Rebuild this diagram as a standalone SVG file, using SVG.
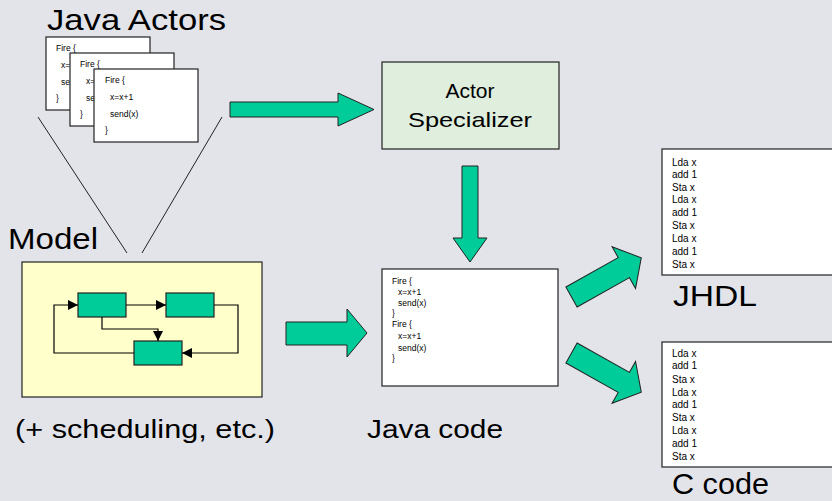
<svg xmlns="http://www.w3.org/2000/svg" width="832" height="501" viewBox="0 0 832 501">
<defs>
<style>
.big{font-family:"Liberation Sans",Arial,sans-serif;font-size:29px;fill:#000}
.mid{font-family:"Liberation Sans",Arial,sans-serif;font-size:21px;fill:#000}
.code{font-family:"Liberation Sans",Arial,sans-serif;font-size:8.5px;fill:#000}
.asm{font-family:"Liberation Sans",Arial,sans-serif;font-size:10px;fill:#000}
.card{fill:#fff;stroke:#222;stroke-width:1.2}
.fat{fill:#00cc99;stroke:#222;stroke-width:1}
.blk{fill:#00cc99;stroke:#222;stroke-width:1.2}
.wire{fill:none;stroke:#000;stroke-width:1.2}
.thin{fill:none;stroke:#222;stroke-width:1}
</style>
<marker id="ah" markerUnits="userSpaceOnUse" markerWidth="10" markerHeight="10" refX="10" refY="5" orient="auto">
<path d="M0,0 L10,5 L0,10 z" fill="#000"/>
</marker>
</defs>
<rect x="0" y="0" width="832" height="501" fill="#e3e4ea"/>

<g id="java-actors">
<text class="big" x="47" y="30" textLength="179" lengthAdjust="spacingAndGlyphs">Java Actors</text>
<rect class="card" x="46" y="37" width="104" height="73"/>
<text class="code" x="56" y="51">Fire {</text>
<text class="code" x="61" y="68">x=</text>
<text class="code" x="61" y="85">se</text>
<text class="code" x="56" y="101">}</text>
<rect class="card" x="70" y="53" width="104" height="73"/>
<text class="code" x="80" y="67">Fire {</text>
<text class="code" x="86" y="84">x=</text>
<text class="code" x="86" y="101">se</text>
<text class="code" x="80" y="117">}</text>
<rect class="card" x="94" y="69" width="104" height="73"/>
<text class="code" x="105" y="83">Fire {</text>
<text class="code" x="110" y="100">x=x+1</text>
<text class="code" x="110" y="117">send(x)</text>
<text class="code" x="105" y="133">}</text>
</g>

<g id="model">
<text class="big" x="8" y="249" textLength="90" lengthAdjust="spacingAndGlyphs">Model</text>
<rect x="22" y="262" width="240" height="135" fill="#ffffcc" stroke="#222" stroke-width="1.2"/>
<rect class="blk" x="78" y="293" width="48" height="24"/>
<rect class="blk" x="166" y="293" width="48" height="24"/>
<rect class="blk" x="134" y="341" width="48" height="24"/>
<path class="wire" d="M126,305 H166" marker-end="url(#ah)"/>
<path class="wire" d="M102,317 V329 H158 V341" marker-end="url(#ah)"/>
<path class="wire" d="M214,305 H238 V353 H182" marker-end="url(#ah)"/>
<path class="wire" d="M134,353 H54 V305 H78" marker-end="url(#ah)"/>
<text class="big" x="15" y="438" textLength="260" lengthAdjust="spacingAndGlyphs" style="font-size:26px">(+ scheduling, etc.)</text>
</g>

<g id="actor-specializer">
<rect x="382" y="62" width="177" height="87" fill="#dfeedd" stroke="#222" stroke-width="1.2"/>
<text class="mid" x="470" y="98" text-anchor="middle">Actor</text>
<text class="mid" x="470" y="127" text-anchor="middle" textLength="124" lengthAdjust="spacingAndGlyphs">Specializer</text>
</g>

<g id="java-code">
<rect class="card" x="382" y="269" width="176" height="117"/>
<text class="code" x="392" y="284">Fire {</text>
<text class="code" x="398" y="295">x=x+1</text>
<text class="code" x="398" y="306">send(x)</text>
<text class="code" x="392" y="316">}</text>
<text class="code" x="392" y="327">Fire {</text>
<text class="code" x="398" y="339">x=x+1</text>
<text class="code" x="398" y="351">send(x)</text>
<text class="code" x="392" y="361">}</text>
<text class="big" x="367" y="438" textLength="136" lengthAdjust="spacingAndGlyphs" style="font-size:26px">Java code</text>
</g>

<g id="jhdl">
<rect class="card" x="662" y="149" width="180" height="126"/>
<text class="asm" x="672" y="166">Lda x</text>
<text class="asm" x="672" y="178">add 1</text>
<text class="asm" x="672" y="191">Sta x</text>
<text class="asm" x="672" y="203">Lda x</text>
<text class="asm" x="672" y="216">add 1</text>
<text class="asm" x="672" y="229">Sta x</text>
<text class="asm" x="672" y="242">Lda x</text>
<text class="asm" x="672" y="255">add 1</text>
<text class="asm" x="672" y="268">Sta x</text>
<text class="big" x="673" y="306" textLength="84" lengthAdjust="spacingAndGlyphs">JHDL</text>
</g>

<g id="c-code">
<rect class="card" x="662" y="342" width="180" height="125"/>
<text class="asm" x="672" y="357">Lda x</text>
<text class="asm" x="672" y="369">add 1</text>
<text class="asm" x="672" y="383">Sta x</text>
<text class="asm" x="672" y="396">Lda x</text>
<text class="asm" x="672" y="408">add 1</text>
<text class="asm" x="672" y="421">Sta x</text>
<text class="asm" x="672" y="434">Lda x</text>
<text class="asm" x="672" y="447">add 1</text>
<text class="asm" x="672" y="460">Sta x</text>
<text class="big" x="672" y="494" textLength="97" lengthAdjust="spacingAndGlyphs">C code</text>
</g>

<g id="connectors">
<line class="thin" x1="38" y1="117" x2="127" y2="253"/>
<line class="thin" x1="222" y1="117" x2="142" y2="253"/>
<polygon class="fat" points="230,102 338,102 338,93 374,109.5 338,126 338,117 230,117"/>
<polygon class="fat" points="462,166 478,166 478,238 487,238 470,262 453,238 462,238"/>
<polygon class="fat" points="286,322 347,322 347,309 367,333 347,357 347,345 286,345"/>
<polygon class="fat" transform="translate(571.5,297) rotate(-29.3)" points="0,-11.5 60,-11.5 60,-24 80,0 60,24 60,11.5 0,11.5"/>
<polygon class="fat" transform="translate(571.5,353) rotate(29.3)" points="0,-11.5 60,-11.5 60,-24 80,0 60,24 60,11.5 0,11.5"/>
</g>
</svg>
